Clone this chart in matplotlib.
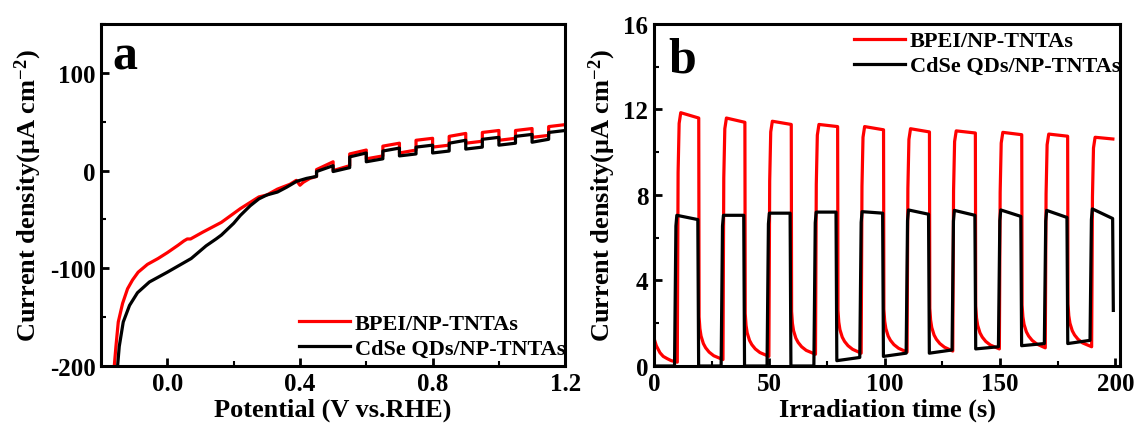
import matplotlib
matplotlib.use("Agg")
import matplotlib.pyplot as plt
from matplotlib.ticker import AutoMinorLocator, MultipleLocator

plt.rcParams['font.family'] = ['Liberation Serif', 'DejaVu Serif']
plt.rcParams['font.weight'] = 'bold'
plt.rcParams['axes.labelweight'] = 'bold'
plt.rcParams['axes.unicode_minus'] = False
plt.rcParams['mathtext.fontset'] = 'custom'
plt.rcParams['mathtext.rm'] = 'Liberation Serif:bold'
plt.rcParams['mathtext.bf'] = 'Liberation Serif:bold'
plt.rcParams['mathtext.it'] = 'Liberation Serif:italic:bold'
plt.rcParams['mathtext.default'] = 'rm'

labels = ['BPEI/NP-TNTAs', 'CdSe QDs/NP-TNTAs']
colors = ['#ff0000', '#000000']

# ---- panel a: chopped LSV ----
# smooth part (dark, before chopping starts)
a_red_v = [-0.16, -0.155, -0.148, -0.135, -0.12, -0.105, -0.088, -0.06, -0.028, 0.0,
           0.032, 0.05, 0.06, 0.07, 0.107, 0.163, 0.22, 0.276, 0.3, 0.332, 0.37,
           0.389, 0.40, 0.41, 0.43, 0.45]
a_red_j = [-200, -180, -155, -136, -121, -112, -104, -96, -90, -84,
           -76.5, -72, -70, -70, -63, -53, -39, -27, -25, -19, -14,
           -10, -15, -12, -8, -6]
a_blk_v = [-0.15, -0.145, -0.133, -0.114, -0.09, -0.054, 0.0, 0.072, 0.117, 0.147,
           0.163, 0.2, 0.22, 0.25, 0.276, 0.3, 0.332, 0.36, 0.39, 0.42, 0.45]
a_blk_j = [-200, -180, -155, -138, -125, -114, -104, -90, -77, -70,
           -66, -54, -46, -36, -29, -25, -22, -17, -11, -8, -6]

# light on / off potentials
a_on = [0.45, 0.55, 0.65, 0.75, 0.85, 0.95, 1.05, 1.15]
a_off = [0.50, 0.60, 0.70, 0.80, 0.90, 1.00, 1.10, 1.20]
# (start, end) current in each light period and each dark period after it
a_red_light = [(1, 9), (17, 21), (25, 28), (31, 33), (35, 38), (39, 41), (41, 43), (45, 47)]
a_red_dark = [(0, 5), (12, 15), (18, 21), (24, 26), (28, 30), (31, 33), (34, 36)]
a_blk_light = [(-1, 5), (14, 18), (20, 23), (24, 26), (28, 31), (32, 34), (35, 37), (39, 41)]
a_blk_dark = [(-1, 3), (9, 12), (15, 17), (18, 20), (22, 24), (26, 28), (29, 32)]

# ---- panel b: i-t chopping ----
b_red_pre_t = [0, 1, 2.6, 4, 5.8, 7.5]
b_red_pre_j = [1.3, 0.95, 0.62, 0.45, 0.34, 0.25]
b_red_on = [10.1, 29.9, 49.8, 70.0, 89.8, 109.7, 129.5, 149.7, 169.6, 189.7]
b_red_off = [19.4, 39.4, 59.5, 79.6, 99.5, 119.4, 139.3, 159.4, 179.3, 198.9]
b_red_peak = [11.85, 11.6, 11.45, 11.3, 11.2, 11.1, 11.0, 10.93, 10.85, 10.7]
b_red_end = [11.6, 11.4, 11.3, 11.2, 11.05, 10.95, 10.9, 10.82, 10.75, 10.62]
b_red_base = [0.18, 0.3, 0.45, 0.55, 0.6, 0.65, 0.7, 0.8, 0.85, 0.9]  # level just before each on
# decay after light off (seconds after off, excess over baseline)
b_red_decay_dt = [0.15, 0.5, 1.0, 2.0, 3.0, 4.5, 6.5]
b_red_decay_ex = [2.0, 1.45, 1.1, 0.75, 0.55, 0.35, 0.18]

b_blk_on = [8.9, 29.1, 49.0, 69.3, 89.2, 109.3, 129.2, 149.3, 169.2, 189.0]
b_blk_off = [19.0, 38.9, 59.0, 78.9, 99.1, 119.0, 139.1, 159.0, 179.0, 198.8]
b_blk_peak = [7.05, 7.05, 7.15, 7.2, 7.22, 7.3, 7.28, 7.3, 7.28, 7.35]
b_blk_end = [6.85, 7.05, 7.15, 7.2, 7.15, 7.1, 7.05, 7.0, 6.95, 6.9]
b_blk_dark_start = [0.0, 0.0, 0.0, 0.0, 0.25, 0.45, 0.6, 0.8, 0.95, 1.05]
b_blk_dark_end = [0.0, 0.0, 0.0, 0.0, 0.4, 0.6, 0.75, 0.9, 1.05, 1.2]
b_blk_last = 2.6


def chop_a(v0, j0, light, dark):
    v, j = list(v0), list(j0)
    for i in range(len(a_on)):
        v += [a_on[i], a_off[i]]
        j += [light[i][0], light[i][1]]
        if i < len(dark):
            v += [a_off[i], a_on[i + 1]]
            j += [dark[i][0], dark[i][1]]
    return v, j


def red_b():
    t, j = list(b_red_pre_t), list(b_red_pre_j)
    n = len(b_red_on)
    for i in range(n):
        on, off, pk, base = b_red_on[i], b_red_off[i], b_red_peak[i], b_red_base[i]
        t += [on, on + 0.35, on + 0.8, on + 1.5, off]
        j += [base, pk - 2.8, pk - 0.5, pk, b_red_end[i]]
        if i < n - 1:
            nb = b_red_base[i + 1]
            t += [off + d for d in b_red_decay_dt]
            j += [nb + e for e in b_red_decay_ex]
    return t, j


def blk_b():
    t, j = [0], [b_blk_dark_end[0]]
    n = len(b_blk_on)
    for i in range(n):
        on, off, pk = b_blk_on[i], b_blk_off[i], b_blk_peak[i]
        t += [on, on + 0.6, on + 1.0, off]
        j += [b_blk_dark_end[i], pk - 0.5, pk, b_blk_end[i]]
        if i < n - 1:
            t += [off + 0.35, b_blk_on[i + 1]]
            j += [b_blk_dark_start[i + 1], b_blk_dark_end[i + 1]]
        else:
            t += [off + 0.3]
            j += [b_blk_last]
    return t, j


fig = plt.figure(figsize=(11.35, 4.27), dpi=100)
ax1 = fig.add_axes([0.089, 0.1405, 0.409, 0.801])
ax2 = fig.add_axes([0.5762, 0.1405, 0.4106, 0.801])

rv, rj = chop_a(a_red_v, a_red_j, a_red_light, a_red_dark)
kv, kj = chop_a(a_blk_v, a_blk_j, a_blk_light, a_blk_dark)
ax1.plot(rv, rj, color=colors[0], lw=2.3, label=labels[0])
ax1.plot(kv, kj, color=colors[1], lw=2.3, label=labels[1])
ax1.set_xlim(-0.2, 1.2)
ax1.set_ylim(-200, 150)
ax1.set_xticks([0.0, 0.4, 0.8, 1.2])
ax1.set_yticks([-200, -100, 0, 100])
ax1.xaxis.set_minor_locator(MultipleLocator(0.2))
ax1.yaxis.set_minor_locator(MultipleLocator(50))
ax1.set_xlabel('Potential (V vs.RHE)', fontsize=19, labelpad=2)
ax1.set_ylabel('Current density(μA cm$^{-2}$)', fontsize=19, labelpad=4)
ax1.text(0.025, 0.87, 'a', transform=ax1.transAxes, fontsize=36, fontweight='bold')

rt, rjb = red_b()
kt, kjb = blk_b()
ax2.plot(rt, rjb, color=colors[0], lw=2.3, label=labels[0])
ax2.plot(kt, kjb, color=colors[1], lw=2.3, label=labels[1])
ax2.set_xlim(0, 202)
ax2.set_ylim(0, 16)
ax2.set_xticks([0, 50, 100, 150, 200])
ax2.set_yticks([0, 4, 8, 12, 16])
ax2.xaxis.set_minor_locator(AutoMinorLocator(2))
ax2.yaxis.set_minor_locator(AutoMinorLocator(2))
ax2.set_xlabel('Irradiation time (s)', fontsize=19, labelpad=2)
ax2.set_ylabel('Current density(μA cm$^{-2}$)', fontsize=19, labelpad=4)
ax2.text(0.03, 0.86, 'b', transform=ax2.transAxes, fontsize=36, fontweight='bold')

for ax in (ax1, ax2):
    for s in ax.spines.values():
        s.set_linewidth(2.2)
    ax.tick_params(which='major', direction='in', length=6, width=2, labelsize=18, pad=4)
    ax.tick_params(which='minor', direction='in', length=3.5, width=1.5)

leg_kw = dict(frameon=False, prop={'size': 16, 'weight': 'bold'}, handlelength=2.3,
              handletextpad=0.2, labelspacing=0.2, borderaxespad=0, borderpad=0)
ax1.legend(loc='lower right', bbox_to_anchor=(1.0, 0.02), **leg_kw)
ax2.legend(loc='upper right', bbox_to_anchor=(1.0, 0.98), **leg_kw)

fig.savefig('out.png', dpi=100)
